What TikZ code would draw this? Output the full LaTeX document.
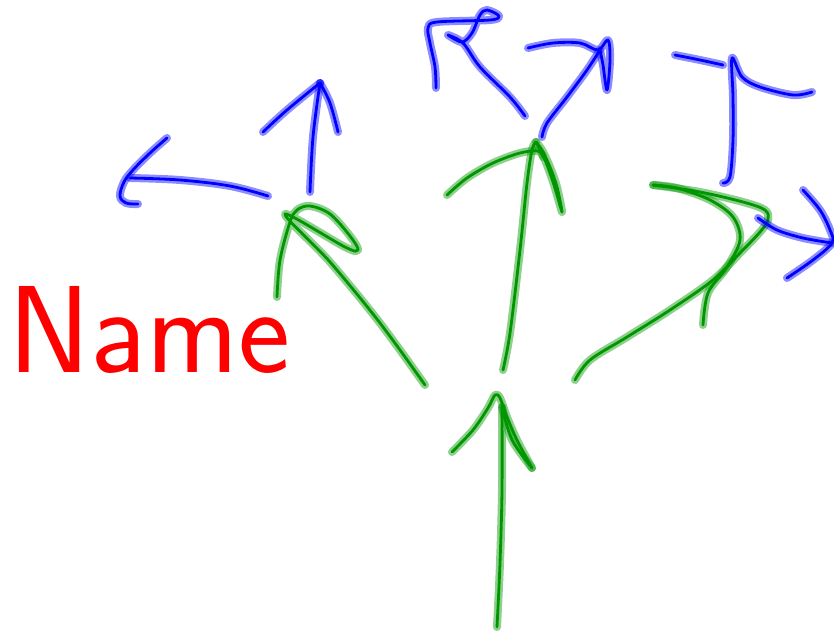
\documentclass[tikz,border=0pt]{standalone}
\definecolor{gcol}{RGB}{0,150,0}
\definecolor{bcol}{RGB}{0,0,255}
\definecolor{rcol}{RGB}{255,0,0}
\tikzset{
  gs/.style={preaction={draw=gcol,line width=8pt,opacity=0.45,line cap=round,line join=round},
             draw=gcol,line width=2.8pt,line cap=round,line join=round},
  bs/.style={preaction={draw=bcol,line width=8pt,opacity=0.45,line cap=round,line join=round},
             draw=bcol,line width=2.8pt,line cap=round,line join=round},
}
\begin{document}
\begin{tikzpicture}[x=1pt,y=-1pt]
\useasboundingbox (0,0) rectangle (834,631);
% Name
\node[anchor=base west,inner sep=0pt,text=rcol,font=\sffamily\fontsize{124}{124}\selectfont] (name) at (8,372) {Name};
% left blue arrow
\draw[bs] plot[smooth,tension=0.6] coordinates {(268,196) (230,186) (180,180) (130,178)};
\draw[bs] plot[smooth,tension=0.6] coordinates {(167,138) (150,153) (133,170) (124,182) (120,196) (126,203) (138,204)};
% left-group up arrow
\draw[bs] plot[smooth,tension=0.6] coordinates {(310,192) (313,137) (320,83)};
\draw[bs] plot[smooth,tension=0.6] coordinates {(263,132) (287,110) (320,83)};
\draw[bs] plot[smooth,tension=0.6] coordinates {(320,83) (330,103) (338,132)};
% green left arrow
\draw[gs] plot[smooth,tension=0.55] coordinates {(277,297) (280,260) (290,222) (297,210) (310,206) (330,214) (350,236) (358,250) (345,247) (285,214) (330,262) (380,323) (425,385)};
% top-left blue arrow
\draw[bs] plot[smooth,tension=0.55] coordinates {(525,116) (510,97) (480,67) (463,43) (448,35) (462,42) (472,33) (480,15) (487,10) (499,16) (490,20) (437,22) (428,28) (430,43) (435,67) (436,88)};
% top-right blue arrow
\draw[bs] plot[smooth,tension=0.55] coordinates {(542,137) (547,123) (567,97) (587,70) (600,50)};
\draw[bs] plot[smooth,tension=0.55] coordinates {(528,48) (553,43) (580,43) (598,50) (608,40) (610,60) (607,90) (603,65) (600,50)};
% green middle arrow
\draw[gs] plot[smooth,tension=0.55] coordinates {(503,370) (510,333) (520,250) (527,183) (532,150) (536,142)};
\draw[gs] plot[smooth,tension=0.55] coordinates {(447,195) (467,178) (493,163) (520,153) (538,151) (543,157)};
\draw[gs] plot[smooth,tension=0.55] coordinates {(536,142) (542,150) (550,167) (557,187) (562,212) (554,185) (545,160) (536,142)};
% blue T
\draw[bs] plot[smooth,tension=0.55] coordinates {(675,55) (700,60) (723,65)};
\draw[bs] plot[smooth,tension=0.55] coordinates {(723,183) (730,177) (733,140) (733,97) (732,58) (742,77) (760,87) (793,95) (812,92)};
% green right stroke
\draw[gs] plot[smooth,tension=0.55] coordinates {(575,380) (590,360) (627,337) (670,310) (713,280) (740,253) (760,232) (768,220) (765,210) (743,202) (700,192) (653,185)};
\draw[gs] plot[smooth,tension=0.55] coordinates {(653,185) (677,188) (710,200) (733,217) (740,240) (727,267) (708,293) (703,325)};
% blue right arrow
\draw[bs] plot[smooth,tension=0.55] coordinates {(758,218) (777,230) (803,238) (832,243)};
\draw[bs] plot[smooth,tension=0.55] coordinates {(803,190) (820,210) (830,230) (832,243) (813,260) (787,278)};
% bottom green arrow
\draw[gs] plot[smooth,tension=0.55] coordinates {(497,627) (500,563) (502,490) (502,407)};
\draw[gs] plot[smooth,tension=0.55] coordinates {(452,452) (473,430) (488,408) (495,395) (500,398) (507,417) (517,440) (532,468)};
\draw[gs] plot[smooth,tension=0.55] coordinates {(502,407) (512,440) (532,468)};
\end{tikzpicture}
\end{document}
